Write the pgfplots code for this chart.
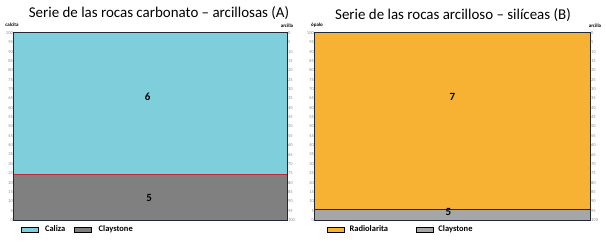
\documentclass[border=0pt]{standalone}
\usepackage{fontspec}
\setmainfont{Carlito}
\usepackage{pgfplots}
\pgfplotsset{compat=1.18}
\definecolor{cal}{RGB}{127,206,219}
\definecolor{clyA}{RGB}{128,128,128}
\definecolor{clyB}{RGB}{166,166,166}
\definecolor{rad}{RGB}{247,178,52}
\definecolor{frm}{RGB}{30,40,55}
\definecolor{tk}{RGB}{140,140,140}
\definecolor{redl}{RGB}{190,40,50}
\pgfplotsset{
  base/.style={scale only axis, xmin=0, xmax=1, ymin=0, ymax=100,
    xtick=\empty, ytick={0,5,...,100}, major tick length=0pt,
    /pgf/number format/assume math mode=true,
    yticklabel style={font=\fontsize{4.5}{5}\selectfont, text=tk, inner sep=1pt},
    clip=false},
  mainax/.style={base, axis line style={draw=frm, line width=1.1pt},
    legend style={draw=none, fill=none, font=\fontsize{8.5}{9}\selectfont\bfseries,
      legend columns=2,
      /tikz/every odd column/.append style={column sep=5bp},
      /tikz/every even column/.append style={column sep=7bp},
      at={(0.02,-0.015)}, anchor=north west, inner sep=1pt},
    legend cell align=left},
  secax/.style={base, y dir=reverse, axis y line*=right, axis x line=none,
    axis line style={draw=none}},
}
\begin{document}
\begin{tikzpicture}
\path[use as bounding box] (0,0) rectangle (606bp,246bp);
% ---------------- Panel A
\begin{axis}[mainax, at={(14bp,26bp)}, width=273bp, height=187bp,
  legend image code/.code={\draw[#1, draw=gray!60!black, line width=0.3pt] (0bp,-5bp) rectangle (13bp,5.5bp);}]
\addplot[fill=cal, draw=none, area legend] coordinates {(0,24.5)(1,24.5)(1,100)(0,100)} -- cycle;
\addlegendentry{Caliza}
\addplot[fill=clyA, draw=none, area legend] coordinates {(0,0)(1,0)(1,24.5)(0,24.5)} -- cycle;
\addlegendentry{Claystone}
\addplot[redl, line width=1.2pt, forget plot] coordinates {(0,24.5)(1,24.5)};
\node[font=\bfseries\fontsize{11}{12}\selectfont] at (axis cs:0.49,66) {6};
\node[font=\bfseries\fontsize{11}{12}\selectfont] at (axis cs:0.495,12) {5};
\end{axis}
\begin{axis}[secax, at={(14bp,26bp)}, width=273bp, height=187bp]
\end{axis}
% ---------------- Panel B
\begin{axis}[mainax, at={(315bp,26bp)}, width=275bp, height=187bp,
  legend style={at={(0.04,-0.015)},
    /tikz/every odd column/.append style={column sep=3bp},
    /tikz/every even column/.append style={column sep=26bp}},
  legend image code/.code={\draw[#1, draw=gray!60!black, line width=0.3pt] (0bp,-5bp) rectangle (19bp,5.5bp);}]
\addplot[fill=rad, draw=none, area legend] coordinates {(0,5.5)(1,5.5)(1,100)(0,100)} -- cycle;
\addlegendentry{Radiolarita}
\addplot[fill=clyB, draw=none, area legend] coordinates {(0,0)(1,0)(1,5.5)(0,5.5)} -- cycle;
\addlegendentry{Claystone}
\addplot[frm, line width=0.8pt, forget plot] coordinates {(0,5.5)(1,5.5)};
\node[font=\bfseries\fontsize{11}{12}\selectfont] at (axis cs:0.50,66) {7};
\node[font=\bfseries\fontsize{11}{12}\selectfont] at (axis cs:0.485,4.5) {5};
\end{axis}
\begin{axis}[secax, at={(315bp,26bp)}, width=275bp, height=187bp]
\end{axis}
% ---------------- Titles and side labels
\node[font=\fontsize{15}{17}\selectfont] at (159bp,233bp) {Serie de las rocas carbonato -- arcillosas (A)};
\node[font=\fontsize{15}{17}\selectfont] at (453bp,231bp) {Serie de las rocas arcilloso -- silíceas (B)};
\node[font=\bfseries\fontsize{5}{6}\selectfont] at (12bp,221bp) {calcita};
\node[font=\bfseries\fontsize{5}{6}\selectfont] at (287bp,220bp) {arcilla};
\node[font=\bfseries\fontsize{5}{6}\selectfont] at (317bp,221bp) {ópalo};
\node[font=\bfseries\fontsize{5}{6}\selectfont] at (595bp,220bp) {arcilla};
\end{tikzpicture}
\end{document}
